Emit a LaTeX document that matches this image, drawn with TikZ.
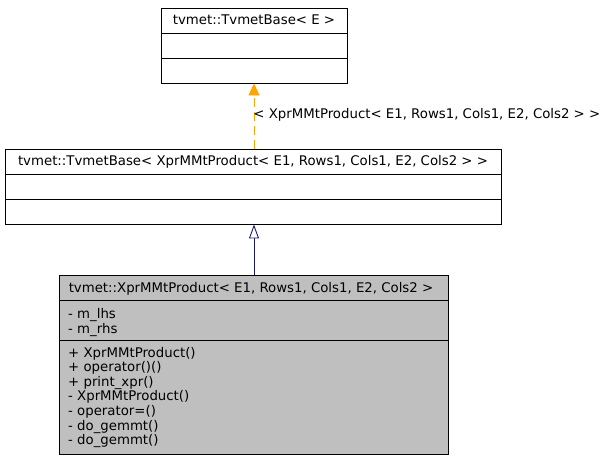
\documentclass[tikz,border=0pt]{standalone}
\usepackage{xcolor}
\usepackage{fontspec}
\setmainfont{DejaVu Sans}
\usepackage{tikz}
\usetikzlibrary{arrows.meta}

\definecolor{docnavy}{HTML}{191970}
\definecolor{docorange}{HTML}{FFA500}
\definecolor{docgray}{HTML}{BFBFBF}

\tikzset{
  classbox/.style={draw=black, line width=0.9pt, inner sep=0pt},
  classtext/.style={inner sep=0pt, font=\fontsize{13.3}{14.6}\selectfont},
  memberlist/.style={classtext, anchor=west, align=left},
  inherit/.style={draw=docnavy, line width=0.9pt, -{Triangle[open, length=14pt, width=10pt]}},
  templ/.style={draw=docorange, line width=0.9pt, dash pattern=on 9pt off 5pt,
    -{Triangle[length=12pt, width=11pt]}}
}

\begin{document}
\begin{tikzpicture}
                \tikzset{x={(1pt, 0pt)}, y={(0pt, -1pt)}}
                \useasboundingbox (0, 0) rectangle (608, 459);
                % tvmet::TvmetBase< E >
                \node[classbox, minimum width=186pt, minimum height=75pt] (baseE) at (254, 45.5) {};
                \draw[line width=0.9pt] (161, 33) -- (347, 33);
                \draw[line width=0.9pt] (161, 58) -- (347, 58);
                \node[classtext] (baseEname) at (254, 20) {tvmet::TvmetBase< E >};
                % tvmet::TvmetBase< XprMMtProduct<...> >
                \node[classbox, minimum width=496pt, minimum height=75pt] (baseX) at (253, 186.5) {};
                \draw[line width=0.9pt] (5, 174.5) -- (501, 174.5);
                \draw[line width=0.9pt] (5, 199.5) -- (501, 199.5);
                \node[classtext] (baseXname) at (253, 161.5) {tvmet::TvmetBase< XprMMtProduct< E1, Rows1, Cols1, E2, Cols2 > >};
                % tvmet::XprMMtProduct
                \node[classbox, fill=docgray, minimum width=389pt, minimum height=179pt] (xpr) at (254, 365) {};
                \draw[line width=0.9pt] (59.5, 300.5) -- (448.5, 300.5);
                \draw[line width=0.9pt] (59.5, 340.5) -- (448.5, 340.5);
                \node[classtext] (xprname) at (251, 289) {tvmet::XprMMtProduct< E1, Rows1, Cols1, E2, Cols2 >};
                \node[memberlist] (xprattr) at (68, 322.5) {- m\_lhs\\- m\_rhs};
                \node[memberlist] (xprops) at (68, 397.5) {+ XprMMtProduct()\\+ operator()()\\+ print\_xpr()\\- XprMMtProduct()\\- operator=()\\- do\_gemmt()\\- do\_gemmt()};
                % connectors
                \draw[inherit] (xpr.north) -- (xpr.north |- baseX.south);
                \draw[templ] (xpr.north |- baseX.north) -- (xpr.north |- baseE.south)
                    node[pos=0.52, classtext, anchor=west, xshift=-1pt] (templarg) {< XprMMtProduct< E1, Rows1, Cols1, E2, Cols2 > >};
\end{tikzpicture}
\end{document}
